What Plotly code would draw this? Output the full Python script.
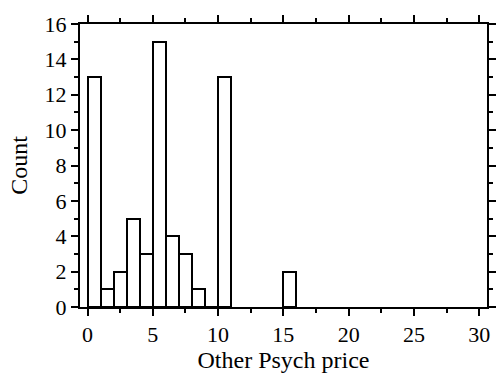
import plotly.graph_objects as go

# Histogram of "Other Psych price": bin left edges (width 1) and counts
bin_left = [0, 1, 2, 3, 4, 5, 6, 7, 8, 9, 10, 15]
counts = [13, 1, 2, 5, 3, 15, 4, 3, 1, 0, 13, 2]
bin_width = 1

x_ticks = [0, 5, 10, 15, 20, 25, 30]
y_ticks = [0, 2, 4, 6, 8, 10, 12, 14, 16]

centers = [b + bin_width / 2 for b in bin_left]

fig = go.Figure(
    go.Bar(
        x=centers,
        y=counts,
        width=[bin_width] * len(centers),
        marker=dict(color="white", line=dict(color="black", width=2)),
    )
)

family = "Liberation Serif, Times New Roman, serif"
tick_font = dict(family=family, size=22, color="black")
title_font = dict(family=family, size=24, color="black")

axis_common = dict(
    showline=True,
    linecolor="black",
    linewidth=2,
    mirror="ticks",
    ticks="outside",
    ticklen=7,
    tickwidth=2,
    tickcolor="black",
    showgrid=False,
    zeroline=False,
    tickfont=tick_font,
)

fig.update_layout(
    width=502,
    height=374,
    margin=dict(l=80, r=6, t=24, b=67),
    paper_bgcolor="white",
    plot_bgcolor="white",
    showlegend=False,
    font=tick_font,
    xaxis=dict(
        **axis_common,
        range=[-0.58, 30.6],
        tickvals=x_ticks,
        minor=dict(dtick=2.5, tick0=0, ticks="outside", ticklen=4, tickwidth=2, tickcolor="black"),
        title=dict(text="Other Psych price", font=title_font, standoff=3),
    ),
    yaxis=dict(
        **axis_common,
        range=[0, 16],
        tickvals=y_ticks,
        minor=dict(dtick=1, tick0=0, ticks="outside", ticklen=4, tickwidth=2, tickcolor="black"),
        title=dict(text="Count", font=title_font, standoff=10),
    ),
    bargap=0,
)

fig.write_html("out.html")
